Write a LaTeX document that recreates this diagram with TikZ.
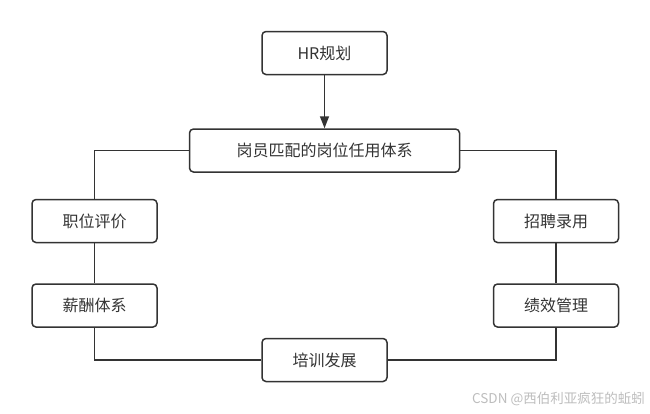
\documentclass[tikz,border=0pt]{standalone}
\usepackage{fontspec}
\setmainfont{Noto Sans CJK SC}
\usepackage{xcolor}
\usetikzlibrary{arrows.meta,positioning}
\definecolor{linegray}{HTML}{333333}
\definecolor{wmgray}{HTML}{BDBDBD}

\begin{document}
\begin{tikzpicture}[x=1pt, y=-1pt, >={Triangle[length=12pt,width=9pt]},
  box/.style={draw=linegray, line width=1.5pt, rounded corners=4pt, align=center,
    minimum width=125pt, minimum height=43pt, inner sep=0pt, text=linegray,
    font=\fontsize{16}{19}\selectfont},
  link/.style={draw=linegray, line width=1.5pt}]
  \useasboundingbox (0,0) rectangle (650,413);
  \node[box](hr) at (324.5,53){HR规划};
  \node[box,below=53pt of hr, minimum width=270pt](match){岗员匹配的岗位任用体系};
  \node[box](eval) at (94.5,221){职位评价};
  \node[box,below=40pt of eval](pay){薪酬体系};
  \node[box](hire) at (556,221){招聘录用};
  \node[box,below=40pt of hire](perf){绩效管理};
  \node[box](train) at (324.5,360){培训发展};
  \node[text=wmgray, font=\fontsize{13.5}{16}\selectfont, anchor=east, inner sep=0pt](wm) at (645,399){CSDN @西伯利亚疯狂的蚯蚓};
  \draw[link,->](hr)--(match);
  \draw[link](match.west) -| (eval.north);
  \draw[link](eval)--(pay);
  \draw[link](pay.south) |- (train.west);
  \draw[link](train.east) -| (perf.south);
  \draw[link](perf)--(hire);
  \draw[link](hire.north) |- (match.east);
\end{tikzpicture}
\end{document}
